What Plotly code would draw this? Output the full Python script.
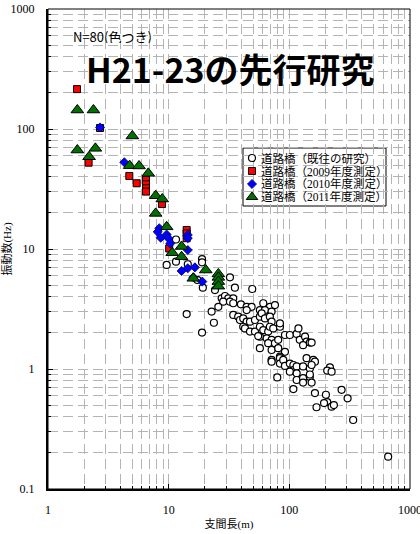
import plotly.graph_objects as go

# ---- data (span length m, frequency Hz) ----
prev_x = [11.5, 9.62, 11.5, 14.4, 18.9, 18.9, 17.3, 19.2, 14.1, 18.9,
          32.2, 35.4, 49.3, 24.2, 27.5, 29.3, 31.2, 34.3, 28.3, 32.2,
          34.3, 25.8, 39.7, 44.3, 48.7, 44.3, 22.7, 60.8, 69.0, 76.0,
          57.0, 62.8, 71.3, 34.3, 37.7, 39.0, 41.5, 44.3, 47.2, 51.9,
          57.0, 59.0, 62.8, 69.0, 71.3, 23.7, 41.5, 42.9, 47.2, 51.9,
          57.0, 60.8, 66.8, 69.0, 73.6, 83.6, 83.6, 57.0, 64.9, 71.3,
          66.8, 76.0, 80.9, 92.0, 101, 115, 119, 122, 135, 139,
          57.0, 71.3, 80.9, 92.0, 83.6, 71.3, 55.2, 148, 153, 130,
          83.6, 83.6, 89.0, 92.0, 101, 108, 108, 115, 101, 115,
          130, 139, 158, 163, 148, 153, 79.4, 115, 130, 148,
          130, 153, 148, 217, 206, 224, 108, 163, 271, 201,
          304, 206, 194, 224, 234, 168, 338, 659, 71.3]
prev_y = [12.0, 7.36, 7.84, 7.46, 8.25, 7.75, 5.52, 4.76, 2.87, 2.01,
          5.81, 4.76, 4.64, 4.55, 3.88, 4.06, 3.88, 3.88, 3.64, 3.64,
          3.53, 3.30, 3.46, 3.30, 3.30, 3.10, 3.01, 3.53, 3.30, 3.41,
          3.10, 3.10, 3.01, 2.82, 2.73, 2.56, 2.64, 2.48, 2.48, 2.56,
          2.73, 2.91, 2.64, 2.73, 2.48, 2.43, 2.25, 2.18, 2.05, 2.05,
          2.25, 2.11, 2.05, 2.25, 2.18, 2.25, 2.40, 1.86, 1.80, 1.75,
          1.64, 1.64, 1.75, 1.92, 1.92, 1.96, 2.18, 1.75, 1.86, 1.69,
          1.49, 1.44, 1.49, 1.39, 1.27, 1.19, 1.88, 1.66, 1.66, 1.58,
          1.23, 1.11, 1.19, 1.06, 1.11, 1.08, 0.98, 1.05, 0.95, 0.92,
          1.05, 1.23, 1.19, 1.15, 1.01, 1.08, 0.85, 0.81, 0.84, 0.86,
          0.77, 0.77, 0.90, 1.03, 0.97, 0.95, 0.68, 0.63, 0.67, 0.61,
          0.57, 0.53, 0.52, 0.485, 0.50, 0.48, 0.376, 0.186, 1.15]

m2009_x = [1.74, 2.17, 2.70, 4.72, 5.43, 6.49, 6.49, 6.49, 6.49, 8.8,
           10.1, 14.1, 14.1, 14.1]
m2009_y = [215, 52.4, 102, 40.6, 35.3, 37.6, 34.6, 32.1, 30.1, 23.7,
           10.1, 14.4, 13.5, 12.3]

m2010_x = [2.70, 4.29, 8.36, 8.11, 8.59, 9.62, 9.93, 10.3, 14.4, 14.4,
           14.4, 12.8, 14.4, 16.5, 19.0, 16.0]
m2010_y = [103, 52.8, 14.9, 13.9, 12.4, 13.2, 12.3, 11.1, 13.1, 12.3,
           9.8, 6.56, 6.91, 7.03, 5.35, 5.81]

m2011_x = [1.75, 2.38, 5.0, 1.75, 2.47, 2.19, 4.75, 5.68, 6.78, 7.8,
           8.85, 7.8, 9.62, 12.8, 10.7, 12.8, 20.3, 16.0, 25.8, 25.8,
           25.8, 25.8]
m2011_y = [144, 144, 87.5, 66.8, 69, 58.7, 49.5, 49.2, 42.7, 27.8,
           26.1, 19.8, 15.3, 10.5, 9.31, 8.62, 6.68, 5.7, 6.2, 5.8,
           5.35, 4.9]

names = ["道路橋（既往の研究）", "道路橋（2009年度測定）",
         "道路橋（2010年度測定）", "道路橋（2011年度測定）"]
x_ticks = [1, 10, 100, 1000]
y_ticks = [0.1, 1, 10, 100, 1000]
y_ticktext = ["0.1", "1", "10", "100", "1000"]

serif = "Liberation Serif, Noto Sans CJK JP"
sans = "Noto Sans CJK JP"
grid_c = "#b4b4b4"
dash = "10px,5px"

styles = [
    dict(symbol="circle", size=7, color="white", line=dict(color="black", width=1.2)),
    dict(symbol="square", size=7, color="#ff0000", line=dict(color="black", width=1)),
    dict(symbol="diamond", size=7, color="#0000ff", line=dict(color="#000060", width=0.8)),
    dict(symbol="triangle-up", size=11, color="#007000", line=dict(color="black", width=1)),
]
series = [(prev_x, prev_y), (m2009_x, m2009_y), (m2010_x, m2010_y), (m2011_x, m2011_y)]

def minor_vals(lo, hi):
    vals = []
    d = lo
    while d < hi:
        for k in range(2, 10):
            vals.append(d * k)
        d *= 10
    return vals

def px_to_paper_x(px):
    return (px - 48) / 362

def px_to_paper_y(py):
    return 1 - (py - 9) / 480

fig = go.Figure()
for (sx, sy), nm, st in zip(series, names, styles):
    fig.add_trace(go.Scatter(x=sx, y=sy, mode="markers", name=nm, marker=st,
                             showlegend=False))

# ---- compact legend: white box, markers on an overlay 0..1 axis, text annotations ----
row_px = [158, 171, 184, 197]
for nm, st, rp in zip(names, styles, row_px):
    st2 = dict(st)
    if st2["symbol"] == "triangle-up":
        st2["size"] = 10
    fig.add_trace(go.Scatter(x=[px_to_paper_x(252)], y=[px_to_paper_y(rp)], mode="markers",
                             marker=st2, xaxis="x2", yaxis="y2", showlegend=False,
                             hoverinfo="skip"))
    fig.add_annotation(text=nm, xref="paper", yref="paper", x=px_to_paper_x(259),
                       y=px_to_paper_y(rp), xanchor="left", yanchor="middle",
                       showarrow=False, height=13, valign="middle",
                       font=dict(family=serif, size=11.5, color="black"))
fig.add_shape(type="rect", xref="paper", yref="paper",
              x0=px_to_paper_x(243), x1=px_to_paper_x(386),
              y0=px_to_paper_y(206), y1=px_to_paper_y(148),
              line=dict(color="black", width=1), fillcolor="white", layer="between")

fig.update_layout(
    xaxis2=dict(overlaying="x", range=[0, 1], visible=False, fixedrange=True),
    yaxis2=dict(overlaying="y", range=[0, 1], visible=False, fixedrange=True),
)

fig.update_layout(xaxis=dict(
    type="log", range=[0, 3], tickvals=x_ticks, ticktext=[str(v) for v in x_ticks],
    showline=True, linecolor="black", linewidth=2,
    ticks="inside", ticklen=5, tickcolor="black",
    showgrid=True, gridcolor=grid_c, gridwidth=1, griddash=dash,
    minor=dict(tickvals=minor_vals(1, 1000), ticks="inside", ticklen=3,
               tickcolor="black", showgrid=True, gridcolor=grid_c, griddash=dash),
    tickfont=dict(family=serif, size=12, color="black"),
    ticklabelstandoff=9, ticklabeloverflow="allow", automargin=False,
    title=dict(text="支間長(m)", font=dict(family=serif, size=11, color="black"), standoff=4),
    zeroline=False))
fig.update_layout(yaxis=dict(
    type="log", range=[-1, 3], tickvals=y_ticks, ticktext=y_ticktext,
    showline=True, linecolor="black", linewidth=2,
    ticks="inside", ticklen=5, tickcolor="black",
    showgrid=True, gridcolor=grid_c, gridwidth=1, griddash=dash,
    minor=dict(tickvals=minor_vals(0.1, 1000), ticks="inside", ticklen=3,
               tickcolor="black", showgrid=True, gridcolor=grid_c, griddash=dash),
    tickfont=dict(family=serif, size=12, color="black"),
    ticklabelstandoff=9, automargin=False,
    title=dict(text="振動数(Hz)", font=dict(family=serif, size=11, color="black"), standoff=6),
    zeroline=False))

fig.add_shape(type="rect", xref="paper", yref="paper", x0=0, y0=0, x1=1, y1=1,
              line=dict(color="black", width=1), layer="above")

fig.add_annotation(text="N=80(色つき)", xref="paper", yref="paper",
                   x=px_to_paper_x(72), y=px_to_paper_y(36), xanchor="left", yanchor="middle",
                   showarrow=False, height=14, valign="middle", borderpad=0,
                   font=dict(family=sans, size=13, color="black"))
fig.add_annotation(text="<b>H21-23の先行研究</b>", xref="paper", yref="paper",
                   x=px_to_paper_x(230), y=px_to_paper_y(68), xanchor="center", yanchor="middle",
                   showarrow=False, height=35, valign="middle", borderpad=0,
                   font=dict(family=sans, size=34, color="black"))

fig.update_layout(
    width=420, height=534,
    margin=dict(l=48, r=10, t=9, b=45),
    paper_bgcolor="white", plot_bgcolor="white",
    showlegend=False,
)

fig.write_html("out.html")
